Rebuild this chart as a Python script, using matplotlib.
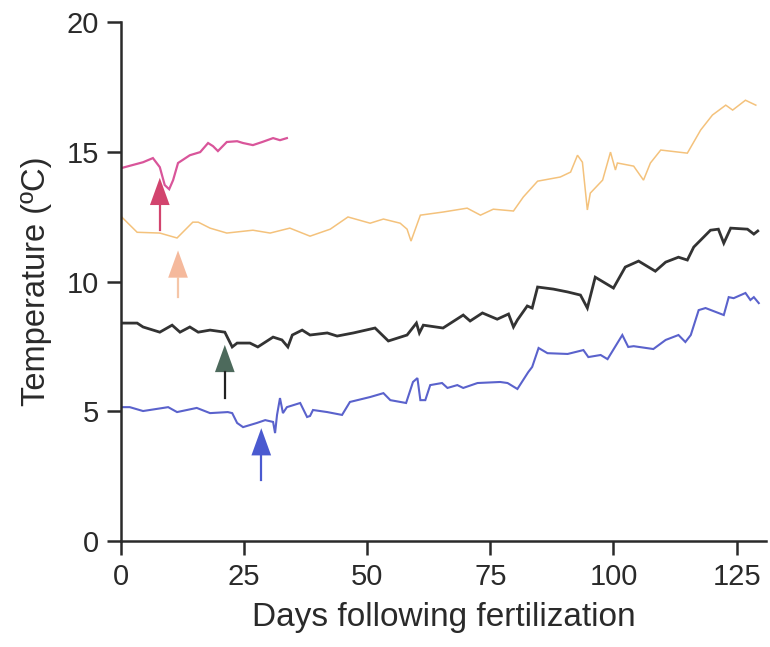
import matplotlib as mpl
mpl.use('Agg')

import matplotlib.pyplot as plt
import numpy as np

plt.rcParams['font.family'] = ['Liberation Sans', 'DejaVu Sans']

# Temperature traces (day, degC)
pink_day = [0, 4.5, 6.5, 7.9, 8.9, 9.8, 10.6, 11.6, 14.0, 16.1, 17.7, 18.7, 19.7,
            21.5, 23.6, 24.8, 26.8, 28.7, 30.9, 32.3, 33.7]
pink_temp = [14.37, 14.6, 14.76, 14.41, 13.72, 13.56, 13.91, 14.57, 14.87, 14.99, 15.34,
             15.22, 15.03, 15.38, 15.41, 15.34, 15.26, 15.38, 15.53, 15.45, 15.53]

orange_day = [0, 3.3, 7.9, 11.4, 14.6, 15.7, 18.1, 21.5, 26.8, 30.3, 34.3, 38.4, 42.5,
              46.1, 50.6, 53.3, 56.7, 58.1, 58.9, 60.8, 65.4, 70.3, 73.0, 75.6, 79.7,
              81.7, 84.6, 89.2, 91.3, 92.7, 93.7, 94.7, 95.3, 97.8, 99.4, 100.4, 100.8,
              104.1, 106.1, 107.5, 109.6, 115.0, 117.7, 120.1, 122.8, 124.2, 126.8, 128.9]
orange_temp = [12.52, 11.9, 11.87, 11.68, 12.29, 12.29, 12.06, 11.87, 11.98, 11.87, 12.06,
               11.75, 12.02, 12.49, 12.25, 12.41, 12.25, 12.02, 11.56, 12.56, 12.68, 12.83,
               12.56, 12.79, 12.72, 13.26, 13.87, 14.03, 14.22, 14.87, 14.6, 12.76, 13.41,
               13.91, 14.99, 14.3, 14.57, 14.45, 13.91, 14.57, 15.07, 14.95, 15.84, 16.42,
               16.8, 16.61, 16.99, 16.8]

black_day = [0, 3.3, 4.5, 7.9, 10.4, 12.0, 14.0, 15.7, 18.1, 21.1, 22.6, 23.6, 26.2, 27.8,
             30.9, 32.7, 33.9, 34.8, 36.8, 38.4, 41.9, 43.9, 47.2, 51.6, 54.3, 58.1, 60.0,
             60.6, 61.4, 65.4, 69.5, 70.9, 73.4, 76.4, 78.7, 79.7, 80.5, 82.5, 83.5, 84.6,
             87.8, 90.7, 93.3, 94.7, 96.3, 100.0, 102.4, 105.1, 108.5, 110.6, 113.2, 115.0,
             116.3, 119.7, 121.3, 122.4, 123.8, 127.2, 128.5, 129.3]
black_temp = [8.4, 8.4, 8.25, 8.05, 8.32, 8.05, 8.25, 8.05, 8.13, 8.05, 7.48, 7.63, 7.63,
              7.48, 7.86, 7.75, 7.48, 7.94, 8.13, 7.94, 8.02, 7.9, 8.02, 8.21, 7.71, 7.94,
              8.4, 8.02, 8.32, 8.21, 8.71, 8.48, 8.79, 8.55, 8.75, 8.25, 8.52, 9.06, 8.98,
              9.79, 9.71, 9.6, 9.48, 8.98, 10.17, 9.75, 10.56, 10.79, 10.4, 10.75, 10.94,
              10.83, 11.33, 11.98, 12.02, 11.48, 12.06, 12.02, 11.83, 11.95]

blue_day = [0, 1.8, 4.5, 9.6, 11.4, 15.4, 18.1, 21.7, 22.6, 23.6, 24.8, 27.6, 29.3, 30.9,
            31.3, 31.7, 32.3, 32.9, 33.7, 36.4, 37.8, 38.4, 39.0, 41.9, 44.9, 46.5, 50.6,
            53.3, 54.7, 57.9, 59.3, 60.2, 60.8, 61.8, 62.8, 65.2, 66.3, 68.3, 69.5, 72.4,
            77.0, 78.5, 80.5, 82.7, 83.5, 84.8, 86.6, 90.7, 93.9, 94.9, 97.4, 98.8, 101.8,
            103.0, 104.1, 108.1, 110.6, 113.2, 114.6, 115.7, 117.3, 118.7, 122.4, 123.4,
            124.4, 126.8, 127.8, 128.5, 129.5]
blue_temp = [5.16, 5.16, 5.01, 5.16, 4.97, 5.13, 4.93, 4.97, 4.93, 4.55, 4.39, 4.55, 4.66,
             4.59, 4.16, 4.86, 5.51, 4.93, 5.16, 5.32, 4.78, 4.82, 5.05, 4.97, 4.86, 5.36,
             5.55, 5.7, 5.43, 5.32, 6.13, 6.28, 5.43, 5.43, 6.01, 6.09, 5.9, 6.01, 5.9, 6.09,
             6.13, 6.09, 5.86, 6.51, 6.71, 7.44, 7.24, 7.21, 7.36, 7.09, 7.17, 7.01, 7.94,
             7.48, 7.51, 7.4, 7.75, 7.94, 7.67, 7.94, 8.9, 8.98, 8.71, 9.4, 9.36, 9.56, 9.29,
             9.4, 9.17]

# Arrows: day, tip temperature, tail temperature
arrow_day = [7.9, 11.6, 21.1, 28.5]
arrow_tip = [14.0, 11.2, 7.56, 4.35]
arrow_tail = [12.0, 9.4, 5.5, 2.35]

line_colors = ['#d9559a', '#f4c27c', '#333333', '#5a62cc']
line_widths = [1.6, 1.1, 2.0, 1.5]
head_colors = ['#d2446e', '#f5b99c', '#4d6a5c', '#4a5ad0']
shaft_colors = ['#d2446e', '#f5c6a8', '#222222', '#4a5ad0']

fig = plt.figure(figsize=(7.7, 6.47), dpi=100)
ax = fig.add_axes([0.157, 0.1638, 0.838, 0.802])

series = [(pink_day, pink_temp), (orange_day, orange_temp),
          (black_day, black_temp), (blue_day, blue_temp)]
for (d, t), c, lw in zip(series, line_colors, line_widths):
    ax.plot(d, t, color=c, lw=lw, solid_joinstyle='miter')

# arrow heads about 4 days wide and 1.05 degC tall
hw, hl = 2.0, 1.05
for x, tip, tail, hc, sc in zip(arrow_day, arrow_tip, arrow_tail, head_colors, shaft_colors):
    ax.plot([x, x], [tail, tip - hl], color=sc, lw=1.6)
    ax.fill([x - hw, x + hw, x], [tip - hl, tip - hl, tip], color=hc, lw=0)

ax.set_xlim(0, 131)
ax.set_ylim(0, 20)
ax.set_xticks([0, 25, 50, 75, 100, 125])
ax.set_yticks([0, 5, 10, 15, 20])

ax.spines['top'].set_visible(False)
ax.spines['right'].set_visible(False)
for s in ['left', 'bottom']:
    ax.spines[s].set_color('#2a2a2a')
    ax.spines[s].set_linewidth(1.8)
ax.tick_params(direction='out', length=10, width=1.8, color='#2a2a2a',
               labelsize=21, labelcolor='#2a2a2a', pad=6)

ax.set_xlabel('Days following fertilization', fontsize=24, color='#2a2a2a', labelpad=8)
ax.set_ylabel('Temperature (\u00baC)', fontsize=23.5, color='#2a2a2a', labelpad=10)

fig.savefig('out.png', dpi=100)
